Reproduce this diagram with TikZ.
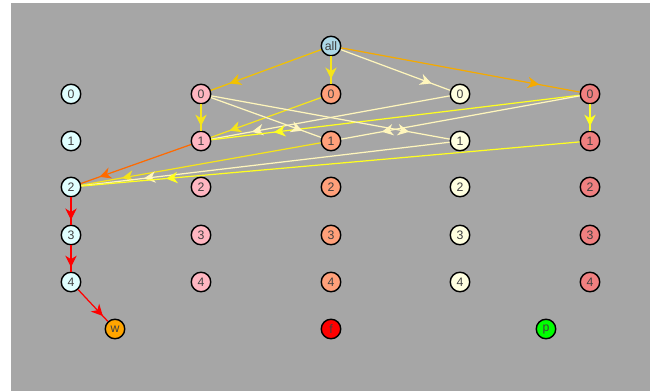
\documentclass[tikz,border=0pt]{standalone}
\usepackage{fontspec}
\setmainfont{Liberation Sans}
\usepackage{tikz}
\usetikzlibrary{arrows.meta,decorations.markings}

\definecolor{canvas}{HTML}{A6A6A6}
\definecolor{cyanfill}{HTML}{E0FFFF}
\definecolor{pinkfill}{HTML}{FFB6C1}
\definecolor{salmonfill}{HTML}{FFA07A}
\definecolor{creamfill}{HTML}{FFFFE0}
\definecolor{coralfill}{HTML}{F08080}
\definecolor{rootfill}{HTML}{ADD8E6}
\definecolor{wfill}{HTML}{FFA500}
\definecolor{ffill}{HTML}{FF0000}
\definecolor{pfill}{HTML}{00FF00}
\definecolor{egold}{HTML}{F2C200}
\definecolor{eyellow}{HTML}{F5E41A}
\definecolor{elemon}{HTML}{FFFF20}
\definecolor{ecream}{HTML}{FFF6BC}
\definecolor{eorange}{HTML}{F5AA00}
\definecolor{edark}{HTML}{FF6A00}
\definecolor{ered}{HTML}{FF0000}

\begin{document}
\begin{tikzpicture}[
  x=0.02cm, y=-0.02cm,
  dot/.style={circle, draw=black, line width=0.8pt, minimum size=0.39cm, inner sep=0pt,
    font=\fontsize{7}{8}\selectfont, text=black!75},
  link/.style={draw=#1, line width=0.7pt, postaction={decorate},
    decoration={markings, mark=at position 0.83 with {\arrow{Stealth[length=6.5pt, width=6.5pt, inset=2pt, color=#1]}}}}
]
\useasboundingbox (0,0) rectangle (654,391);
\fill[canvas] (11,3) rectangle (650,391);

% root
\node[dot, fill=rootfill] (all) at (331,46) {all};

% column 1
\node[dot, fill=cyanfill] (cy0) at (71,94) {0};
\node[dot, fill=cyanfill] (cy1) at (71,141) {1};
\node[dot, fill=cyanfill] (cy2) at (71,187) {2};
\node[dot, fill=cyanfill] (cy3) at (71,235) {3};
\node[dot, fill=cyanfill] (cy4) at (71,282) {4};

% column 2
\node[dot, fill=pinkfill] (pk0) at (201,94) {0};
\node[dot, fill=pinkfill] (pk1) at (201,141) {1};
\node[dot, fill=pinkfill] (pk2) at (201,187) {2};
\node[dot, fill=pinkfill] (pk3) at (201,235) {3};
\node[dot, fill=pinkfill] (pk4) at (201,282) {4};

% column 3
\node[dot, fill=salmonfill] (sa0) at (331,94) {0};
\node[dot, fill=salmonfill] (sa1) at (331,141) {1};
\node[dot, fill=salmonfill] (sa2) at (331,187) {2};
\node[dot, fill=salmonfill] (sa3) at (331,235) {3};
\node[dot, fill=salmonfill] (sa4) at (331,282) {4};

% column 4
\node[dot, fill=creamfill] (cr0) at (460,94) {0};
\node[dot, fill=creamfill] (cr1) at (460,141) {1};
\node[dot, fill=creamfill] (cr2) at (460,187) {2};
\node[dot, fill=creamfill] (cr3) at (460,235) {3};
\node[dot, fill=creamfill] (cr4) at (460,282) {4};

% column 5
\node[dot, fill=coralfill] (co0) at (590,94) {0};
\node[dot, fill=coralfill] (co1) at (590,141) {1};
\node[dot, fill=coralfill] (co2) at (590,187) {2};
\node[dot, fill=coralfill] (co3) at (590,235) {3};
\node[dot, fill=coralfill] (co4) at (590,282) {4};

% bottom row
\node[dot, fill=wfill] (w) at (115,329) {w};
\node[dot, fill=ffill] (f) at (331,329) {f};
\node[dot, fill=pfill] (p) at (546,329) {p};

% links from the root
\draw[link=egold] (all) -- (pk0);
\draw[link=eyellow] (all) -- (sa0);
\draw[link=ecream] (all) -- (cr0);
\draw[link=eorange] (all) -- (co0);

% links into row 1
\draw[link=eyellow] (pk0) -- (pk1);
\draw[link=elemon] (co0) -- (co1);
\draw[link=eyellow] (sa0) -- (pk1);
\draw[link=ecream] (cr0) -- (pk1);
\draw[link=elemon] (co0) -- (pk1);
\draw[link=ecream] (pk0) -- (sa1);
\draw[link=ecream] (pk0) -- (cr1);
\draw[link=ecream] (co0) -- (sa1);

% links into cy2
\draw[link=edark] (pk1) -- (cy2);
\draw[link=eyellow] (sa1) -- (cy2);
\draw[link=ecream] (cr1) -- (cy2);
\draw[link=elemon] (co1) -- (cy2);

% chain down to w
\draw[link=ered] (cy2) -- (cy3);
\draw[link=ered] (cy3) -- (cy4);
\draw[link=ered] (cy4) -- (w);
\end{tikzpicture}
\end{document}
